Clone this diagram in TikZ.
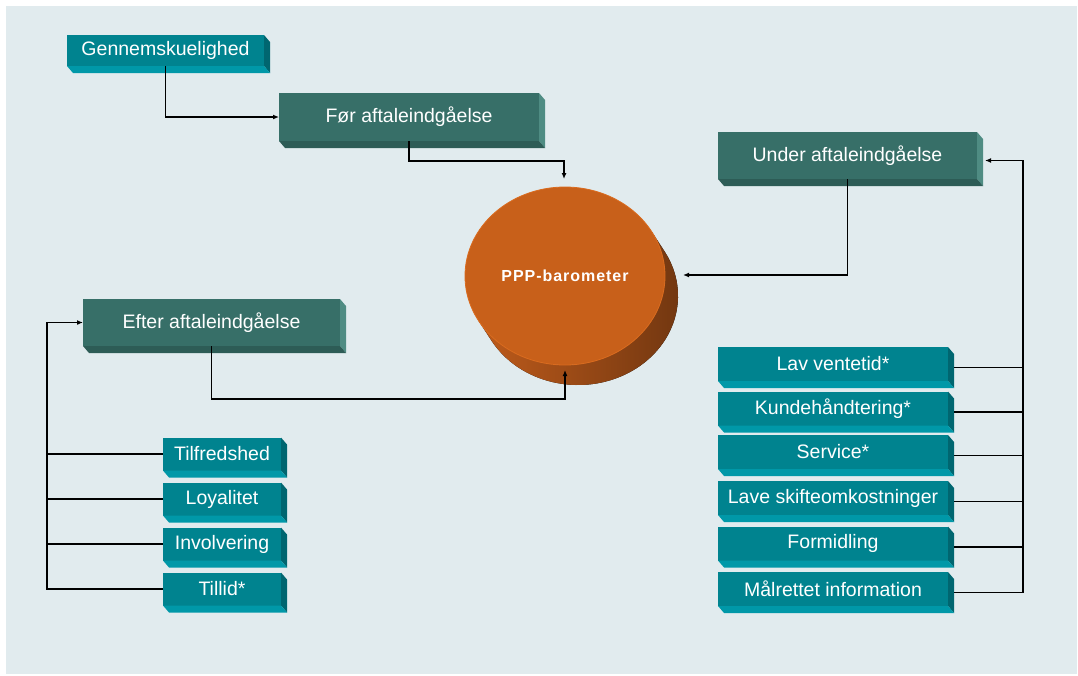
\documentclass[tikz,border=0pt]{standalone}
\usepackage{fontspec}
\setmainfont{Liberation Sans}
\usetikzlibrary{calc,arrows.meta}
\definecolor{bg}{HTML}{E1EBEE}
\definecolor{tealF}{HTML}{00838F}
\definecolor{tealR}{HTML}{006670}
\definecolor{tealB}{HTML}{0098A8}
\definecolor{darkF}{HTML}{376F68}
\definecolor{darkR}{HTML}{4F8C83}
\definecolor{darkB}{HTML}{2D5C56}
\definecolor{orTop}{HTML}{C8601A}
\definecolor{orRim}{HTML}{DA6B1E}
\definecolor{orL}{HTML}{BE5B1B}
\definecolor{orR}{HTML}{6E3510}
\begin{document}
\begin{tikzpicture}[x=1pt,y=-1pt,
  box/.style={inner sep=0pt, outer sep=0pt, text=white, font=\fontsize{19.5}{22}\selectfont, align=center},
  tealbox/.style={box, fill=tealF},
  darkbox/.style={box, fill=darkF},
  smallbox/.style={tealbox, minimum width=118pt, minimum height=33pt},
  rightbox/.style={tealbox, minimum width=230pt, minimum height=34pt},
  conn/.style={line width=1.3pt, black},
  arr/.style={conn, -{Latex[length=6pt,width=5pt]}}
]
% background
\fill[white] (0,0) rectangle (1078,675);
\useasboundingbox (0,0) rectangle (1078,675);
\fill[bg] (6,6) rectangle (1077,674);

% boxes (front faces)
\node[tealbox, minimum width=197pt, minimum height=31pt] (genn) at (165.5,50.5) {Gennemskuelighed};
\node[darkbox, minimum width=260pt, minimum height=48pt] (foer) at (409,117) {Før aftaleindgåelse};
\node[darkbox, minimum width=259pt, minimum height=47pt] (under) at (847.5,155.5) {Under aftaleindgåelse};
\node[darkbox, minimum width=257pt, minimum height=47pt] (efter) at (211.5,322.5) {Efter aftaleindgåelse};

\node[smallbox] (tilf) at (222,454) {Tilfredshed};
\node[smallbox] (loy) at (222,499) {Loyalitet};
\node[smallbox] (inv) at (222,544) {Involvering};
\node[smallbox] (tillid) at (222,589) {Tillid*};

\node[rightbox] (lav) at (833,364) {Lav ventetid*};
\node[rightbox] (kunde) at (833,408.5) {Kundehåndtering*};
\node[rightbox] (serv) at (833,452) {Service*};
\node[rightbox] (skifte) at (833,498) {Lave skifteomkostninger};
\node[rightbox] (form) at (833,543.5) {Formidling};
\node[rightbox] (maal) at (833,589) {Målrettet information};

% bevels
\foreach \n in {genn,tilf,loy,inv,tillid,lav,kunde,serv,skifte,form,maal}{
  \fill[tealR] (\n.north east) -- ++(6,7) -- ($(\n.south east)+(6,7)$) -- (\n.south east) -- cycle;
  \fill[tealB] (\n.south west) -- (\n.south east) -- ++(6,7) -- ($(\n.south west)+(6,7)$) -- cycle;
}
\foreach \n in {foer,under,efter}{
  \fill[darkR] (\n.north east) -- ++(6,7) -- ($(\n.south east)+(6,7)$) -- (\n.south east) -- cycle;
  \fill[darkB] (\n.south west) -- (\n.south east) -- ++(6,7) -- ($(\n.south west)+(6,7)$) -- cycle;
}

% cylinder
\coordinate (cc) at (565,276);
\fill[left color=orL, right color=orR]
  ($(cc)+(-30:100 and 89)$) -- ++(13,20)
  arc[start angle=-30, end angle=150, x radius=100, y radius=89]
  -- ++(-13,-20)
  arc[start angle=150, end angle=-30, x radius=100, y radius=89] -- cycle;
\fill[orTop, draw=orRim, line width=0.8pt] (cc) ellipse[x radius=100, y radius=89];
\node[text=white, font=\bfseries\fontsize{16}{18}\selectfont\addfontfeatures{LetterSpace=6}] (ppp) at (cc) {PPP-barometer};

% connector end points
\coordinate (cylT) at (564,179);
\coordinate (cylR) at (683,275);
\coordinate (cylB) at (565,370);
\coordinate (lbus) at (47,0);
\coordinate (rbus) at (1023,0);
\coordinate (underE) at ($(under.east)+(8,5)$);

% connectors
\draw[arr] (genn.south) |- (foer.west);
\draw[arr] (foer.south) |- ($(cylT)+(0,-18)$) -- (cylT);
\draw[arr] (under.south) |- (cylR);
\draw[arr] (efter.south) |- ($(cylB)+(0,29)$) -- (cylB);

\draw[arr] (tillid.west) -- (tillid.west -| lbus) -- (efter.west -| lbus) -- (efter.west);
\foreach \n in {tilf,loy,inv}{
  \draw[conn] (\n.west) -- (\n.west -| lbus);
}

\coordinate (maalE) at ($(maal.east)+(6,3.5)$);
\draw[arr] (maalE) -- (maalE -| rbus) -- (underE -| rbus) -- (underE);
\foreach \n in {lav,kunde,serv,skifte,form}{
  \coordinate (tmpE) at ($(\n.east)+(6,3.5)$);
  \draw[conn] (tmpE) -- (tmpE -| rbus);
}
\end{tikzpicture}
\end{document}
